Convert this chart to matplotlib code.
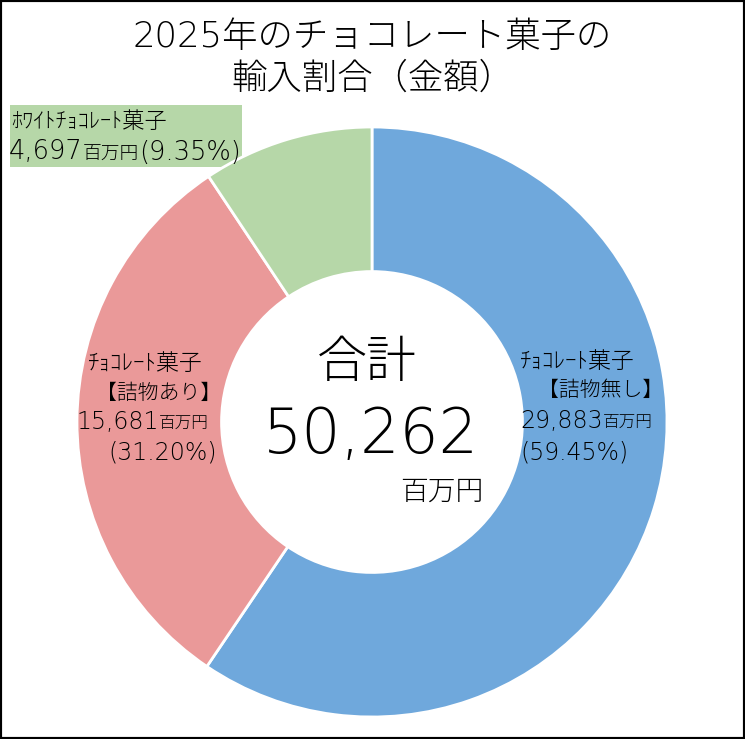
import matplotlib
matplotlib.use("Agg")
import matplotlib.pyplot as plt
from matplotlib.offsetbox import TextArea, HPacker, AnnotationBbox
from matplotlib.patches import Rectangle

plt.rcParams['font.family'] = ['DejaVu Sans', 'Noto Sans CJK JP']
plt.rcParams['font.weight'] = 'light'

# data
categories = ['ﾁｮｺﾚｰﾄ菓子【詰物無し】', 'ﾁｮｺﾚｰﾄ菓子【詰物あり】', 'ﾎﾜｲﾄﾁｮｺﾚｰﾄ菓子']
values = [29883, 15681, 4697]
shares = [59.45, 31.20, 9.35]
colors = ['#6fa8dc', '#ea9999', '#b6d7a8']
total = 50262

W, H = 745, 739
fig = plt.figure(figsize=(W / 100, H / 100), dpi=100)


def fx(x):
    return x / W


def fy(y):
    return 1 - y / H


# donut: centre (372, 422), radius 295 px
cx, cy, r = 372, 422, 295
ax = fig.add_axes([fx(cx - r), fy(cy + r), 2 * r / W, 2 * r / H])
ax.pie(values, colors=colors, startangle=90, counterclock=False, radius=1,
       wedgeprops=dict(width=0.49, edgecolor='white', linewidth=2))
ax.set_xlim(-1, 1)
ax.set_ylim(-1, 1)
ax.set_aspect('equal')
ax.axis('off')


def put_line(x, y, parts):
    # parts: list of (text, fontsize), drawn on one baseline, left edge at x
    boxes = [TextArea(t, textprops=dict(fontsize=s, color='black')) for t, s in parts]
    row = HPacker(children=boxes, align='baseline', pad=0, sep=0)
    ab = AnnotationBbox(row, (fx(x), fy(y)), xycoords='figure fraction',
                        box_alignment=(0, 0.5), frameon=False, pad=0)
    fig.add_artist(ab)


# title
fig.text(0.5, fy(37), '2025年のチョコレート菓子の', ha='center', va='center', fontsize=25.5)
fig.text(0.5, fy(79), '輸入割合（金額）', ha='center', va='center', fontsize=25.5)

# centre text
fig.text(fx(367), fy(363), '合計', ha='center', va='center', fontsize=36)
fig.text(fx(371), fy(436), f'{total:,}', ha='center', va='center', fontsize=44.5)
fig.text(fx(442), fy(492), '百万円', ha='center', va='center', fontsize=20)

# green label with box
fig.add_artist(Rectangle((fx(10), fy(167)), fx(232), 62 / H, transform=fig.transFigure,
                         facecolor=colors[2], edgecolor='none', zorder=0))
put_line(11, 122, [('ﾎﾜｲﾄﾁｮｺﾚｰﾄ菓子', 16)])
put_line(9, 152, [(f'{values[2]:,}', 18.5), ('百万円', 13.5), (f'({shares[2]:.2f}%)', 18.5)])

# blue label
put_line(520, 362, [('ﾁｮｺﾚｰﾄ菓子', 16.5)])
put_line(538, 390, [('【詰物無し】', 15)])
put_line(520, 421, [(f'{values[0]:,}', 17), ('百万円', 12)])
put_line(520, 452, [(f'({shares[0]:.2f}%)', 17)])

# red label
put_line(88, 363, [('ﾁｮｺﾚｰﾄ菓子', 16.5)])
put_line(96, 393, [('【詰物あり】', 15)])
put_line(76, 422, [(f'{values[1]:,}', 17), ('百万円', 12)])
put_line(108, 452, [(f'({shares[1]:.2f}%)', 17)])

# outer frame
fig.add_artist(Rectangle((0, 0), 1, 1, transform=fig.transFigure, fill=False,
                         edgecolor='black', linewidth=3))

fig.savefig('out.png', dpi=100)
